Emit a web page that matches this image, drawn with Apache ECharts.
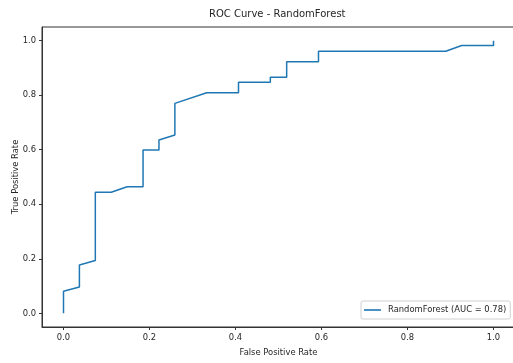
<!DOCTYPE html>
<html>
<head>
<meta charset="utf-8">
<script src="https://cdn.jsdelivr.net/npm/echarts@6/dist/echarts.min.js"></script>
<style>html,body{margin:0;padding:0;background:#fff;}#c{width:513px;height:363px;}</style>
</head>
<body>
<div id="c"></div>
<script>
// ROC curve points
var fpr = [0, 0, 0.037, 0.037, 0.074, 0.074, 0.111, 0.148, 0.185, 0.185, 0.222, 0.222, 0.259, 0.259, 0.333, 0.407, 0.407, 0.481, 0.481, 0.519, 0.519, 0.593, 0.593, 0.889, 0.926, 1.0, 1.0];
var tpr = [0, 0.081, 0.097, 0.177, 0.194, 0.444, 0.444, 0.464, 0.464, 0.599, 0.599, 0.636, 0.654, 0.770, 0.809, 0.809, 0.847, 0.847, 0.866, 0.866, 0.923, 0.923, 0.961, 0.961, 0.982, 0.982, 1.0];
var tickValues = [0, 0.2, 0.4, 0.6, 0.8, 1.0];
var seriesName = 'RandomForest (AUC = 0.78)';
var titleText = 'ROC Curve - RandomForest';

var points = fpr.map(function (x, i) { return [x, tpr[i]]; });
var font = 'DejaVu Sans';
var txt = '#262626';

var chart = echarts.init(document.getElementById('c'), null, {renderer: 'canvas'});
chart.setOption({
  animation: false,
  backgroundColor: '#fff',
  title: {
    text: titleText,
    left: 209,
    top: 9,
    padding: 0,
    textStyle: {fontFamily: font, fontSize: 10, fontWeight: 'normal', color: txt}
  },
  grid: {
    left: 42, top: 27, width: 473, height: 300,
    outerBoundsMode: 'none',
    containLabel: false,
    show: true, borderColor: '#333', borderWidth: 1, backgroundColor: 'transparent'
  },
  legend: {
    data: [{name: seriesName, icon: 'rect'}],
    left: 361, top: 301,
    padding: [5, 4, 5, 3],
    itemWidth: 17, itemHeight: 1.6,
    itemGap: 5,
    backgroundColor: '#fff',
    borderColor: '#d0d0d0', borderWidth: 1, borderRadius: 2,
    textStyle: {fontFamily: font, fontSize: 8.4, color: txt, padding: [0, 0, 0, 2]}
  },
  xAxis: {
    type: 'value', min: -0.05, max: 1.05,
    name: 'False Positive Rate', nameLocation: 'middle', nameGap: 22,
    nameMoveOverlap: false,
    nameTextStyle: {fontFamily: font, fontSize: 8.4, color: txt},
    axisLine: {show: true, onZero: false, lineStyle: {color: '#333', width: 1}},
    axisTick: {show: true, length: 3, customValues: tickValues, lineStyle: {color: '#333'}},
    axisLabel: {customValues: tickValues, margin: 7, fontFamily: font, fontSize: 8.4, color: txt,
      formatter: function (v) { return v.toFixed(1); }},
    splitLine: {show: false}
  },
  yAxis: {
    type: 'value', min: -0.05, max: 1.05,
    name: 'True Positive Rate', nameLocation: 'middle', nameGap: 22,
    nameMoveOverlap: false,
    nameTextStyle: {fontFamily: font, fontSize: 8.4, color: txt},
    axisLine: {show: true, onZero: false, lineStyle: {color: '#333', width: 1}},
    axisTick: {show: true, length: 3, customValues: tickValues, lineStyle: {color: '#333'}},
    axisLabel: {customValues: tickValues, margin: 6, fontFamily: font, fontSize: 8.4, color: txt,
      formatter: function (v) { return v.toFixed(1); }},
    splitLine: {show: false}
  },
  series: [{
    name: seriesName,
    type: 'line',
    data: points,
    symbol: 'none',
    lineStyle: {color: '#1f77b4', width: 1.5},
    itemStyle: {color: '#1f77b4'}
  }]
});
</script>
</body>
</html>
